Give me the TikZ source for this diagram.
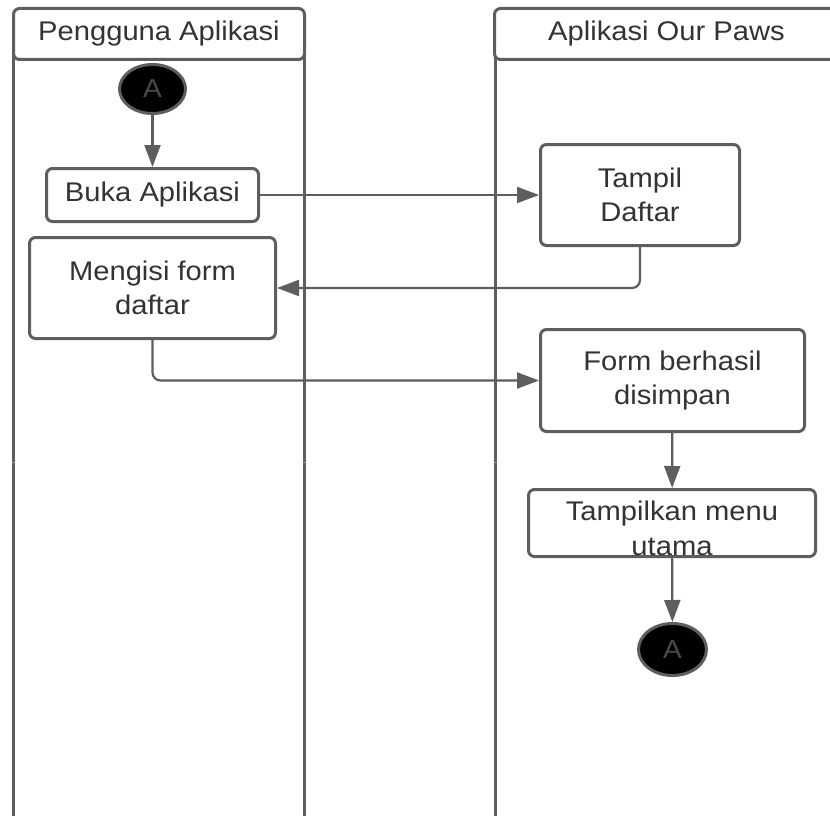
\documentclass[tikz,border=0pt]{standalone}
\usepackage{fontspec}
\setmainfont{Liberation Sans}[FakeStretch=1.08]
\usetikzlibrary{arrows.meta,shapes.geometric}
\definecolor{lineg}{HTML}{5E5E5E}
\definecolor{linelt}{HTML}{9A9A9A}
\definecolor{textg}{HTML}{333333}
\definecolor{agray}{HTML}{4A4A4A}
\begin{document}
\begin{tikzpicture}[x=1pt,y=-1pt,
  lane/.style={draw=lineg,line width=3pt},
  header/.style={draw=lineg,line width=3pt,rounded corners=6pt,fill=white,inner sep=0pt,text=textg,font=\fontsize{27}{34}\selectfont},
  act/.style={draw=lineg,line width=3pt,rounded corners=6pt,fill=white,inner sep=0pt,align=center,text=textg,font=\fontsize{27}{34}\selectfont},
  acttext/.style={inner sep=0pt,align=center,text=textg,font=\fontsize{27}{35}\selectfont},
  flow/.style={draw=lineg,line width=2.2pt,-{Triangle[length=22pt,width=16pt]},rounded corners=8pt},
  term/.style={ellipse,draw=lineg,line width=3pt,fill=black,inner sep=0pt,text=agray,font=\fontsize{26}{30}\selectfont}
]
\useasboundingbox (0,0) rectangle (830,816);
\clip (0,0) rectangle (830,816);
\fill[white] (0,0) rectangle (830,816);

% lane lines
\draw[lane] (13,40) -- (13,816);
\draw[lane] (304,40) -- (304,816);
\draw[lane] (495,40) -- (495,816);
\draw[draw=linelt,line width=3pt] (13,461.5) -- (13,463) (304,461.5) -- (304,463) (495,461.5) -- (495,463);

% headers
\node[header,minimum width=291pt,minimum height=51pt] (h1) at (159,34) {Pengguna Aplikasi};
\node[header,minimum width=344pt,minimum height=51pt] (h2) at (666.5,34) {Aplikasi Our Paws};

% activities
\node[term,minimum width=66pt,minimum height=49pt] (start) at (152.5,89) {A};
\node[act,minimum width=212pt,minimum height=53pt] (buka) at (152.5,195) {Buka Aplikasi};
\node[act,minimum width=199pt,minimum height=101pt] (tampil) at (640,195) {Tampil\\Daftar};
\node[act,minimum width=246pt,minimum height=101pt] (mengisi) at (152.5,288) {Mengisi form\\daftar};
\node[act,minimum width=264pt,minimum height=102pt] (form) at (672.5,380.5) {Form berhasil\\disimpan};
\node[act,minimum width=287pt,minimum height=67pt] (menu) at (672,523) {};
\node[acttext] (menutxt) at (672,528) {Tampilkan menu\\utama};
\node[term,minimum width=68pt,minimum height=52pt] (endn) at (672.5,649.5) {A};

% connectors
\draw[flow] (start) -- (buka);
\draw[flow] (buka) -- (tampil);
\draw[flow] (tampil.south) |- (mengisi.east);
\draw[flow] (mengisi.south) |- (form.west);
\draw[flow] (form) -- (menu);
\draw[flow] (menu) -- (endn);
\end{tikzpicture}
\end{document}
